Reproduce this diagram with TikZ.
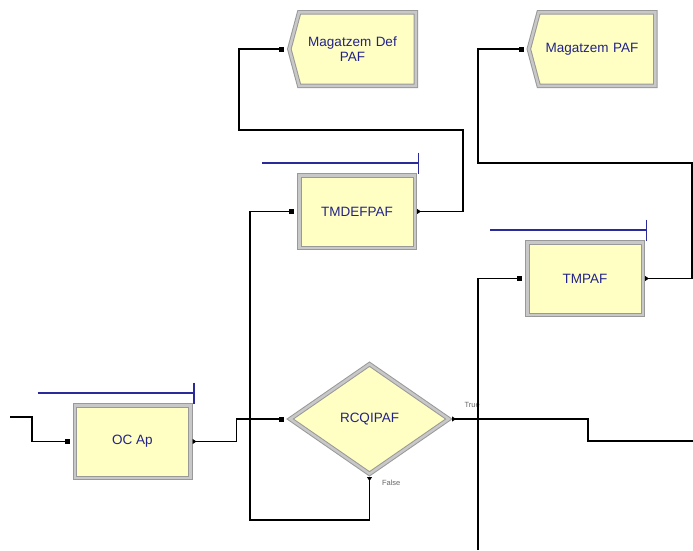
\documentclass[tikz,border=0pt]{standalone}
\usepackage{fontspec}
\setmainfont{Liberation Sans}
\usetikzlibrary{shapes.geometric,shapes.symbols,arrows.meta}
\definecolor{modfill}{HTML}{FFFFC4}
\definecolor{bevdark}{HTML}{999999}
\definecolor{bevlite}{HTML}{C8C8C8}
\definecolor{modtext}{HTML}{22228A}
\definecolor{queueblue}{HTML}{2A2A9A}

\begin{document}
\begin{tikzpicture}[x=1pt, y=-1pt,
    every node/.style={font=\fontsize{13.5}{15}\selectfont, text=modtext},
    bevel/.style={fill=modfill, draw=bevdark, line width=1pt, double=bevlite, double distance=2.5pt, outer sep=2.25pt},
    module/.style={bevel, rectangle, minimum width=115.5pt, minimum height=72.5pt},
    store/.style={bevel, signal, signal to=west, signal from=nowhere, signal pointer angle=150, minimum width=126.5pt, minimum height=73.5pt, text width=100pt, align=center},
    decide/.style={bevel, diamond, aspect=1.45, minimum width=160.5pt, minimum height=111.5pt, inner sep=0pt},
    link/.style={line width=1.1pt, black},
    inport/.style={link, -{Square[length=5pt,width=5pt]}, shorten >=3pt},
    outport/.style={{Triangle[reversed,length=4pt,width=5pt]}-},
    both/.style={inport, {Triangle[reversed,length=4pt,width=5pt]}-{Square[length=5pt,width=5pt]}},
    queue/.style={queueblue, line width=1.2pt, -{Bar[width=21pt,line width=1.2pt]}},
    branch/.style={font=\fontsize{7.5}{8}\selectfont, text=gray!80!black}]
  \useasboundingbox (0,0) rectangle (693,550);

  % modules
  \node[store] (mdef) at (357.5,49) {\hspace*{-10pt}Magatzem Def\\\hspace*{-10pt}PAF};
  \node[store] (mpaf) at (597,49) {\hspace*{-10pt}Magatzem PAF};
  \node[module] (tmdef) at (357,211.5) {TMDEFPAF};
  \node[module] (tmpaf) at (585,278.5) {TMPAF};
  \node[module] (ocap) at (132.5,441.5) {OC Ap};
  \node[decide] (rcq) at (369.5,419) {RCQIPAF};

  \node[branch, anchor=south west] (true) at ([shift={(9,-8)}]rcq.east) {True};
  \node[branch, anchor=west] (false) at ([shift={(9,6)}]rcq.south) {False};

  % entrades i sortides lliures
  \coordinate (in0) at (10,417);
  \coordinate (in1) at (478,550);
  \coordinate (out0) at (693,441);

  % cues
  \foreach \n in {ocap, tmdef, tmpaf} {
    \draw[queue] ([shift={(-155,-10)}]\n.north east) -- ([shift={(2,-10)}]\n.north east);
  }

  % connexions
  \draw[inport] (in0) -- ++(22,0) |- (ocap.west);
  \draw[both] (ocap.east) -- ++(44,0) |- (rcq.west);
  \draw[both] (rcq.south) |- (250,520) |- (tmdef.west);
  \draw[outport, link] (rcq.east) -| (588,441) -- (out0);
  \draw[inport] (in1) |- (tmpaf.west);
  \draw[both] (tmdef.east) -- (463,211.5) |- (239,130) |- (mdef.west);
  \draw[both] (tmpaf.east) -- (692,278.5) |- (478,163) |- (mpaf.west);
\end{tikzpicture}
\end{document}
